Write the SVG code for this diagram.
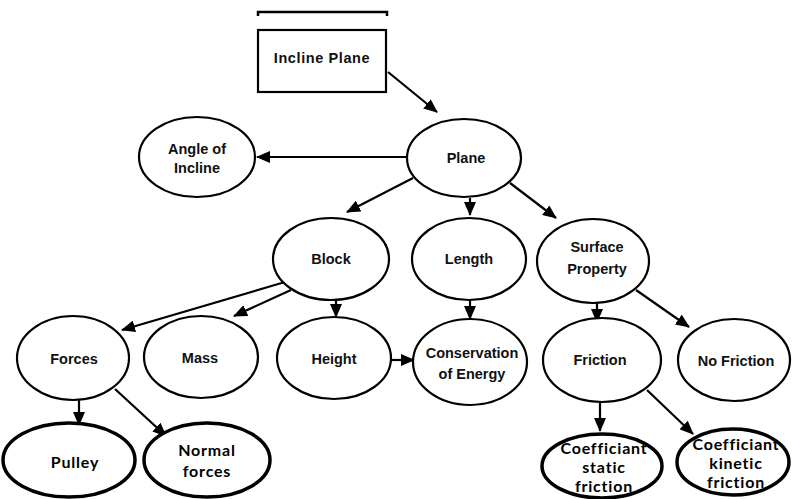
<svg xmlns="http://www.w3.org/2000/svg" width="795" height="499" viewBox="0 0 795 499">
<style>
.n{fill:#fff;stroke:#000;stroke-width:2.2}
.b{fill:#fff;stroke:#000;stroke-width:3.5}
.t{font-family:"Liberation Sans",Arial,sans-serif;font-weight:bold;font-size:14.5px;fill:#111;text-anchor:middle}
.u{font-family:Lato,"Open Sans",sans-serif;font-weight:bold;font-size:16px;letter-spacing:0.8px;fill:#000;text-anchor:middle}
.c line{stroke:#000;stroke-width:2.2;marker-end:url(#a)}
</style>
<defs>
<marker id="a" markerUnits="userSpaceOnUse" markerWidth="14" markerHeight="12" viewBox="0 0 14 12" refX="13" refY="6" orient="auto">
<path d="M0,0 L14,6 L0,12 Z" fill="#000"/>
</marker>
</defs>
<path d="M258,16 V12 H387 V16" fill="none" stroke="#000" stroke-width="2.5"/>
<g class="c">
<line x1="388" y1="72" x2="437" y2="112"/>
<line x1="407" y1="157" x2="257" y2="157"/>
<line x1="413" y1="178" x2="347" y2="212"/>
<line x1="470" y1="198" x2="470" y2="215"/>
<line x1="510" y1="183" x2="556" y2="218"/>
<line x1="285" y1="282" x2="122" y2="330"/>
<line x1="291" y1="290" x2="234" y2="316"/>
<line x1="336" y1="300" x2="336" y2="317"/>
<line x1="391" y1="360" x2="414" y2="360"/>
<line x1="470" y1="300" x2="470" y2="319"/>
<line x1="597" y1="303" x2="597" y2="322"/>
<line x1="636" y1="290" x2="689" y2="327"/>
<line x1="79" y1="400" x2="79" y2="425"/>
<line x1="115" y1="389" x2="166" y2="436"/>
<line x1="600" y1="401" x2="600" y2="431"/>
<line x1="647" y1="390" x2="693" y2="434"/>
</g>
<g id="incline-plane"><rect class="n" x="258" y="30" width="128" height="62"/><text class="t" x="322" y="63" letter-spacing="0.6">Incline Plane</text></g>
<g id="plane"><ellipse class="n" cx="464" cy="158" rx="57" ry="39"/><text class="t" x="466" y="163">Plane</text></g>
<g id="angle"><ellipse class="n" cx="197" cy="157" rx="58" ry="40"/><text class="t" x="197" y="154">Angle of</text><text class="t" x="197" y="173">Incline</text></g>
<g id="block"><ellipse class="n" cx="331" cy="259" rx="58" ry="41"/><text class="t" x="331" y="264">Block</text></g>
<g id="length"><ellipse class="n" cx="469" cy="259" rx="57" ry="41"/><text class="t" x="469" y="264">Length</text></g>
<g id="surface"><ellipse class="n" cx="593" cy="261" rx="56" ry="42"/><text class="t" x="597" y="252">Surface</text><text class="t" x="597" y="274">Property</text></g>
<g id="forces"><ellipse class="n" cx="73" cy="358" rx="56" ry="42"/><text class="t" x="74" y="364">Forces</text></g>
<g id="mass"><ellipse class="n" cx="201" cy="357" rx="57" ry="41"/><text class="t" x="200" y="363">Mass</text></g>
<g id="height"><ellipse class="n" cx="334" cy="358" rx="57" ry="41"/><text class="t" x="334" y="364">Height</text></g>
<g id="conservation"><ellipse class="n" cx="470" cy="362" rx="57" ry="43"/><text class="t" x="472" y="358">Conservation</text><text class="t" x="472" y="379">of Energy</text></g>
<g id="friction"><ellipse class="n" cx="602" cy="360" rx="59" ry="42"/><text class="t" x="600" y="365">Friction</text></g>
<g id="no-friction"><ellipse class="n" cx="734" cy="360" rx="56" ry="41"/><text class="t" x="736" y="366">No Friction</text></g>
<g id="pulley"><ellipse class="b" cx="69" cy="460" rx="66" ry="37"/><text class="u" x="75" y="468">Pulley</text></g>
<g id="normal-forces"><ellipse class="b" cx="207" cy="460" rx="63" ry="37"/><text class="u" x="207" y="456">Normal</text><text class="u" x="207" y="477">forces</text></g>
<g id="static"><ellipse class="b" cx="602" cy="466" rx="60" ry="32"/><text class="u" x="604" y="454">Coefficiant</text><text class="u" x="604" y="473">static</text><text class="u" x="604" y="492">friction</text></g>
<g id="kinetic"><ellipse class="b" cx="733" cy="462" rx="56" ry="33"/><text class="u" x="736" y="450">Coefficiant</text><text class="u" x="736" y="469">kinetic</text><text class="u" x="736" y="488">friction</text></g>
</svg>
